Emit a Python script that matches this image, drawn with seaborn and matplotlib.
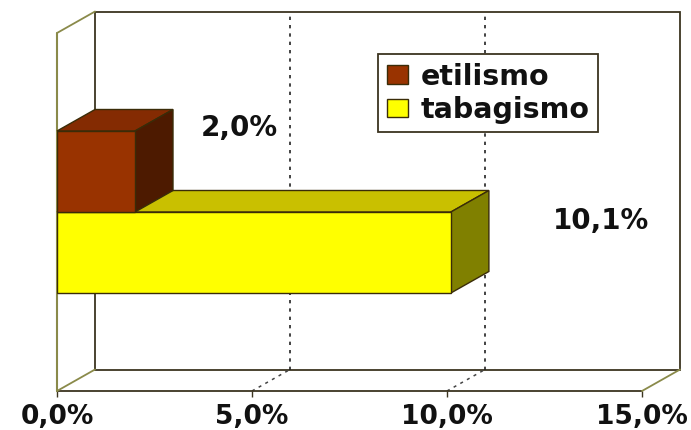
import numpy as np
import pandas as pd
import seaborn as sns
import matplotlib
matplotlib.use("Agg")
import matplotlib.pyplot as plt
from matplotlib.patches import Polygon, Rectangle
from matplotlib.transforms import Affine2D, IdentityTransform

# ---- data ----
group = [""]
series = ["etilismo", "tabagismo"]
values = [2.0, 10.1]
value_labels = ["2,0%", "10,1%"]
x_ticks = [0, 5, 10, 15]
x_tick_labels = ["0,0%", "5,0%", "10,0%", "15,0%"]

# ---- style ----
front_colors = {"etilismo": "#993300", "tabagismo": "#FFFF00"}
top_colors = {"etilismo": "#842b02", "tabagismo": "#C9C000"}
side_colors = {"etilismo": "#4d1a00", "tabagismo": "#808000"}
edge = "#3a2c08"
wall_dark = "#3c3420"
wall_olive = "#8a8a4a"
DX, DY = 38, 21.5          # 3-D depth offset in pixels
label_offsets = [(104, 44), (150, 31)]  # label position relative to bar end (pixels)
FONT = "DejaVu Sans"

df = pd.DataFrame({"grupo": group * len(series), "serie": series, "valor": values})

W, H = 691, 430
sns.set_theme(style="white")
plt.rcParams["font.family"] = [FONT]
fig = plt.figure(figsize=(W / 100, H / 100), dpi=100)
fig.patch.set_facecolor("white")
ax = fig.add_axes([57 / W, 1 - 391 / H, (642 - 57) / W, (391 - 33) / H])

sns.barplot(data=df, x="valor", y="grupo", hue="serie", orient="h",
            palette=front_colors, saturation=1, width=0.8, ax=ax,
            edgecolor=edge, linewidth=1.0, legend=True)

ax.set_xlim(0, 15)
ax.set_ylim(0.884, -0.884)
ax.patch.set_visible(False)
for s in ax.spines.values():
    s.set_visible(False)
ax.set_xlabel("")
ax.set_ylabel("")
ax.set_yticks([])
ax.set_xticks(x_ticks, x_tick_labels)
ax.tick_params(axis="x", length=4, width=1, color=wall_dark, pad=5.5,
               labelsize=19, direction="out", bottom=True)
for t in ax.get_xticklabels():
    t.set_fontweight("bold")
    t.set_color("#111111")

back = ax.transData + Affine2D().translate(DX, DY)

def fpt(x, y):
    return ax.transData.transform((x, y))

def bpt(x, y):
    return back.transform((x, y))

x0, x1 = ax.get_xlim()
ylo, yhi = ax.get_ylim()   # ylo = bottom, yhi = top

# back wall
ax.add_patch(Rectangle((x0, yhi), x1 - x0, ylo - yhi, transform=back,
                       facecolor="white", edgecolor=wall_dark, lw=1.3,
                       zorder=0, clip_on=False))
# gridlines on back wall and floor
for xv in x_ticks[1:-1]:
    ax.plot([xv, xv], [ylo, yhi], transform=back, color="#222222", lw=1.2,
            ls=(0, (2, 3)), zorder=0.5, clip_on=False)
    p, q = fpt(xv, ylo), bpt(xv, ylo)
    ax.plot([p[0], q[0]], [p[1], q[1]], transform=IdentityTransform(),
            color="#444444", lw=1.1, ls=(0, (2, 3)), zorder=0.5, clip_on=False)

def seg(a, b, color, lw=1.3, z=0.6):
    ax.plot([a[0], b[0]], [a[1], b[1]], transform=IdentityTransform(),
            color=color, lw=lw, zorder=z, clip_on=False, solid_capstyle="round")

# floor and left wall
seg(fpt(x0, ylo), fpt(x1, ylo), wall_dark)
seg(fpt(x0, ylo), bpt(x0, ylo), wall_olive)
seg(fpt(x1, ylo), bpt(x1, ylo), wall_olive)
seg(fpt(x0, ylo), fpt(x0, yhi), wall_olive, lw=1.5)
seg(fpt(x0, yhi), bpt(x0, yhi), wall_olive)

# 3-D faces for the bars
bars = [c[0] for c in ax.containers]
order = list(range(len(bars)))[::-1]   # draw lower bars first
for rank, i in enumerate(order):
    b = bars[i]
    name = series[i]
    z = 2 + rank
    b.set_zorder(z + 0.5)
    bx0, by0 = b.get_x(), b.get_y()
    bx1, by1 = bx0 + b.get_width(), by0 + b.get_height()
    ytop = min(by0, by1)
    ybot = max(by0, by1)
    top = [fpt(bx0, ytop), fpt(bx1, ytop), bpt(bx1, ytop), bpt(bx0, ytop)]
    side = [fpt(bx1, ytop), fpt(bx1, ybot), bpt(bx1, ybot), bpt(bx1, ytop)]
    ax.add_patch(Polygon(top, closed=True, transform=IdentityTransform(),
                         facecolor=top_colors[name], edgecolor=edge, lw=1.0,
                         zorder=z, clip_on=False))
    ax.add_patch(Polygon(side, closed=True, transform=IdentityTransform(),
                         facecolor=side_colors[name], edgecolor=edge, lw=1.0,
                         zorder=z, clip_on=False))
    ox, oy = label_offsets[i]
    ax.annotate(value_labels[i], xy=(bx1, (ytop + ybot) / 2), xytext=(ox, oy),
                textcoords="offset pixels", ha="center", va="center",
                fontsize=20, fontweight="bold", color="#111111", zorder=10,
                annotation_clip=False)

sns.move_legend(ax, loc="upper left", bbox_to_anchor=(378 / W, 1 - 54 / H),
                bbox_transform=fig.transFigure, title=None, frameon=True,
                fancybox=False, borderaxespad=0, borderpad=0.3,
                handlelength=0.75, handleheight=0.6, handletextpad=0.45,
                labelspacing=0.18, fontsize=20.5)
leg = ax.get_legend()
leg.get_frame().set_edgecolor(wall_dark)
leg.get_frame().set_linewidth(1.3)
leg.get_frame().set_alpha(1)
leg.set_zorder(20)
for t in leg.get_texts():
    t.set_fontweight("bold")
    t.set_color("#111111")

fig.savefig("out.png", dpi=100, facecolor="white")
